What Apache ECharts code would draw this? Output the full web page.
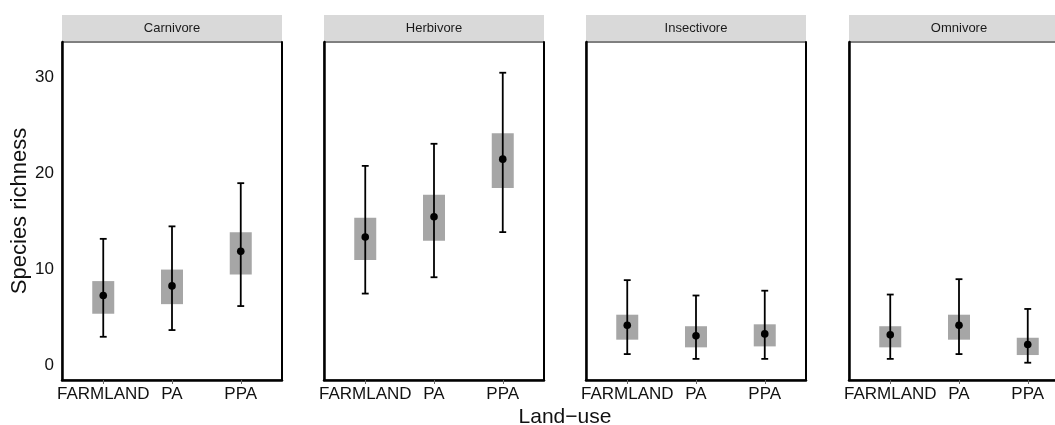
<!DOCTYPE html>
<html>
<head>
<meta charset="utf-8">
<style>
  html, body { margin: 0; padding: 0; background: #fff; }
  #chart { width: 1055px; height: 425px; }
</style>
<script src="https://cdn.jsdelivr.net/npm/echarts@6/dist/echarts.min.js"></script>
</head>
<body>
<div id="chart"></div>
<script>
// Species richness by land-use type, faceted by feeding guild
const landUse = ['FARMLAND', 'PA', 'PPA'];
const guilds = ['Carnivore', 'Herbivore', 'Insectivore', 'Omnivore'];

// one row per guild, one value per land-use type
const meanRichness = [
  [7.3, 8.3, 11.9],
  [13.4, 15.5, 21.5],
  [4.2, 3.1, 3.3],
  [3.2, 4.2, 2.2]
];
const boxLow = [
  [5.4, 6.4, 9.5],
  [11.0, 13.0, 18.5],
  [2.7, 1.9, 2.0],
  [1.9, 2.7, 1.1]
];
const boxHigh = [
  [8.8, 10.0, 13.9],
  [15.4, 17.8, 24.2],
  [5.3, 4.1, 4.3],
  [4.1, 5.3, 2.9]
];
const whiskerLow = [
  [3.0, 3.7, 6.2],
  [7.5, 9.2, 13.9],
  [1.2, 0.7, 0.7],
  [0.7, 1.2, 0.3]
];
const whiskerHigh = [
  [13.2, 14.5, 19.0],
  [20.8, 23.1, 30.5],
  [8.9, 7.3, 7.8],
  [7.4, 9.0, 5.9]
];
const yTicks = [0, 10, 20, 30];

const FONT = "'Liberation Sans', Arial, sans-serif";
const panelLeft = [62, 324, 586, 849];
const panelWidth = 220;
const panelTop = 42;
const panelHeight = 338;
const stripTop = 15;

const chart = echarts.init(document.getElementById('chart'), null, { renderer: 'canvas' });

const grids = [], xAxes = [], yAxes = [], series = [], graphics = [];

guilds.forEach((g, i) => {
  grids.push({
    left: panelLeft[i], top: panelTop, width: panelWidth, height: panelHeight,
    outerBoundsMode: 'none', containLabel: false,
    show: true, borderColor: '#000', borderWidth: 1, backgroundColor: '#fff'
  });
  xAxes.push({
    type: 'value', gridIndex: i, min: -0.6, max: 2.6,
    splitLine: { show: false },
    axisLine: { show: true, onZero: false, lineStyle: { color: '#000', width: 2.5 } },
    axisTick: { show: true, customValues: [0, 1, 2], length: 4, lineStyle: { color: '#666', width: 1 } },
    axisLabel: {
      customValues: [0, 1, 2], margin: 6,
      formatter: v => landUse[Math.round(v)],
      color: '#111', fontSize: 17, fontFamily: FONT
    }
  });
  // left axis carries the tick labels on the first panel only
  yAxes.push({
    type: 'value', gridIndex: i, min: -1.5, max: 33.7, position: 'left',
    splitLine: { show: false },
    axisLine: { show: true, onZero: false, lineStyle: { color: '#000', width: 2.5 } },
    axisTick: { show: false },
    axisLabel: {
      show: i === 0, customValues: yTicks, margin: 8,
      color: '#111', fontSize: 17, fontFamily: FONT
    }
  });
  // right edge of the panel frame
  yAxes.push({
    type: 'value', gridIndex: i, min: -1.5, max: 33.7, position: 'right',
    splitLine: { show: false },
    axisLine: { show: true, onZero: false, lineStyle: { color: '#000', width: 2 } },
    axisTick: { show: false }, axisLabel: { show: false }
  });

  const rows = landUse.map((lu, k) => [k, meanRichness[i][k], boxLow[i][k], boxHigh[i][k], whiskerLow[i][k], whiskerHigh[i][k]]);

  series.push({
    type: 'custom', xAxisIndex: i, yAxisIndex: i * 2,
    data: rows,
    renderItem: (params, api) => {
      const x = api.value(0);
      const pMean = api.coord([x, api.value(1)]);
      const pBoxLo = api.coord([x, api.value(2)]);
      const pBoxHi = api.coord([x, api.value(3)]);
      const pWLo = api.coord([x, api.value(4)]);
      const pWHi = api.coord([x, api.value(5)]);
      const boxW = api.size([0.32, 0])[0];
      const capW = api.size([0.1, 0])[0];
      const lineStyle = { stroke: '#000', lineWidth: 1.8 };
      return {
        type: 'group',
        children: [
          { type: 'rect', shape: { x: pMean[0] - boxW / 2, y: pBoxHi[1], width: boxW, height: pBoxLo[1] - pBoxHi[1] },
            style: { fill: '#a6a6a6' } },
          { type: 'line', shape: { x1: pWLo[0], y1: pWLo[1], x2: pWHi[0], y2: pWHi[1] }, style: lineStyle },
          { type: 'line', shape: { x1: pWLo[0] - capW / 2, y1: pWLo[1], x2: pWLo[0] + capW / 2, y2: pWLo[1] }, style: lineStyle },
          { type: 'line', shape: { x1: pWHi[0] - capW / 2, y1: pWHi[1], x2: pWHi[0] + capW / 2, y2: pWHi[1] }, style: lineStyle },
          { type: 'circle', shape: { cx: pMean[0], cy: pMean[1], r: 3.8 }, style: { fill: '#000' } }
        ]
      };
    }
  });

  // facet strip
  graphics.push({
    type: 'rect', left: panelLeft[i], top: stripTop,
    shape: { width: panelWidth, height: panelTop - stripTop - 1 },
    style: { fill: '#d9d9d9' }
  });
  graphics.push({
    type: 'text', x: panelLeft[i] + panelWidth / 2, y: (stripTop + panelTop) / 2,
    style: { text: g, fill: '#1a1a1a', font: '13px ' + FONT, textAlign: 'center', textVerticalAlign: 'middle' }
  });
});

graphics.push({
  type: 'text', x: 20, y: 211, rotation: Math.PI / 2,
  style: { text: 'Species richness', fill: '#111', font: '22px ' + FONT, textAlign: 'center', textVerticalAlign: 'middle' }
});
graphics.push({
  type: 'text', x: 565, y: 417,
  style: { text: 'Land\u2212use', fill: '#111', font: '21px ' + FONT, textAlign: 'center', textVerticalAlign: 'middle' }
});

chart.setOption({
  animation: false,
  backgroundColor: '#fff',
  grid: grids,
  xAxis: xAxes,
  yAxis: yAxes,
  series: series,
  graphic: { elements: graphics }
});
</script>
</body>
</html>
